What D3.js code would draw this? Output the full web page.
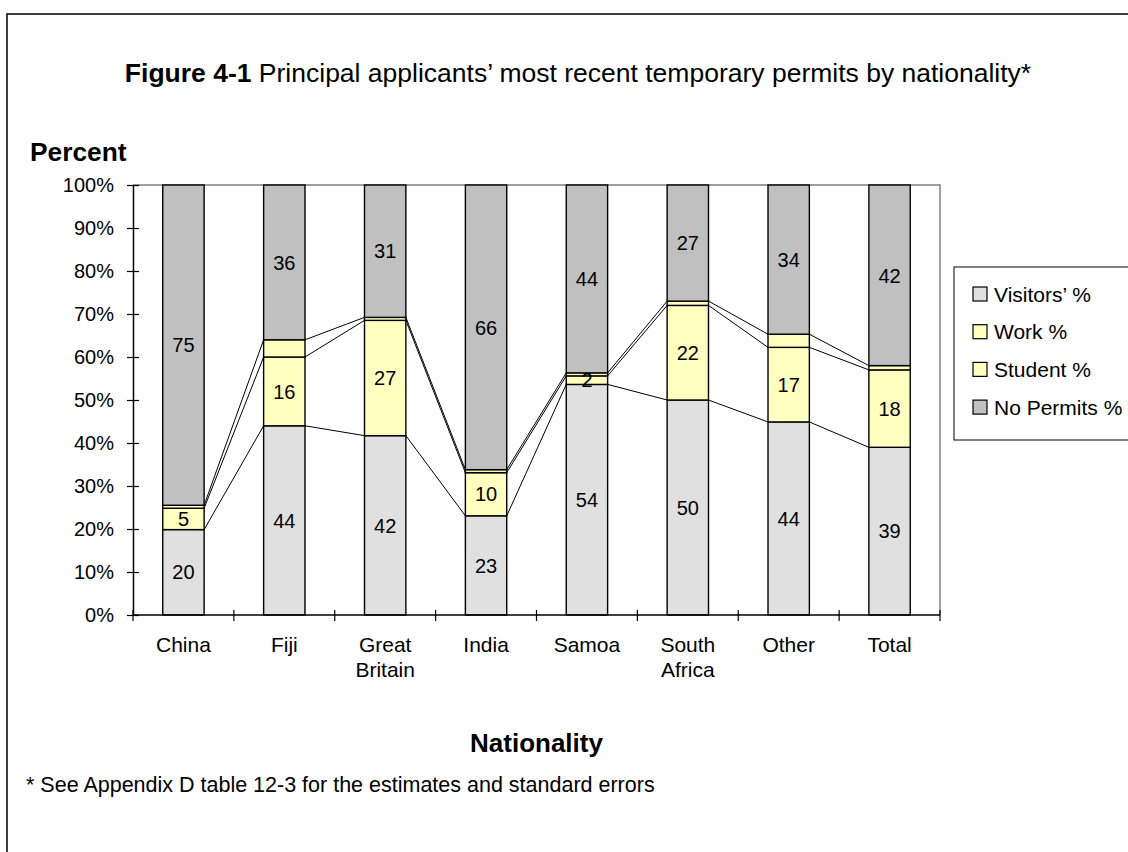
<!DOCTYPE html>
<html>
<head>
<meta charset="utf-8">
<script src="https://cdn.jsdelivr.net/npm/d3@7"></script>
<style>
  body { margin: 0; background: #fff; }
  svg { display: block; }
  text { font-family: "Liberation Sans", Arial, Helvetica, sans-serif; fill: #000; }
</style>
</head>
<body>
<svg id="chart" width="1128" height="852"></svg>
<script>
// Nationalities (x categories)
const categories = ["China", "Fiji", "Great Britain", "India", "Samoa", "South Africa", "Other", "Total"];

// Permit shares per nationality, in percent (stacked as a 100% column)
const visitors  = [20, 44, 42, 23, 54, 50, 44, 39];
const work      = [5, 16, 27, 10, 2, 22, 17, 18];
const student   = [0.7, 4, 0.7, 0.7, 0.7, 1, 3, 1];
const noPermits = [75, 36, 31, 66, 44, 27, 34, 42];

const seriesKeys   = ["visitors", "work", "student", "noPermits"];
const seriesNames  = ["Visitors’ %", "Work %", "Student %", "No Permits %"];
const seriesColors = ["#E0E0E0", "#FFFFC0", "#FFFFC0", "#C0C0C0"];
const labelledKeys = ["visitors", "work", "noPermits"];

const yTickValues = [0, 0.1, 0.2, 0.3, 0.4, 0.5, 0.6, 0.7, 0.8, 0.9, 1];

const titleBold = "Figure 4-1";
const titleRest = " Principal applicants’ most recent temporary permits by nationality*";
const yTitle = "Percent";
const xTitle = "Nationality";
const footnote = "* See Appendix D table 12-3 for the estimates and standard errors";

// ---------------------------------------------------------------
const W = 1128, H = 852;
const plot = { left: 133, right: 940, top: 185, bottom: 615 };

const svg = d3.select("#chart");

const rows = categories.map((c, i) => ({
  cat: c,
  visitors: visitors[i],
  work: work[i],
  student: student[i],
  noPermits: noPermits[i]
}));

const stacked = d3.stack().keys(seriesKeys).offset(d3.stackOffsetExpand)(rows);

const x = d3.scaleBand()
  .domain(categories)
  .range([plot.left, plot.right])
  .paddingInner(0.59)
  .paddingOuter(0.295);

const y = d3.scaleLinear().domain([0, 1]).range([plot.bottom, plot.top]);

const color = d3.scaleOrdinal().domain(seriesKeys).range(seriesColors);

// outer frame of the figure
svg.append("rect")
  .attr("x", 7).attr("y", 14)
  .attr("width", W + 20).attr("height", H + 20)
  .attr("fill", "none").attr("stroke", "#000").attr("stroke-width", 1.5);

// title
const title = svg.append("text")
  .attr("x", 578).attr("y", 82)
  .attr("text-anchor", "middle")
  .style("font-size", "26.5px");
title.append("tspan").style("font-weight", "bold").text(titleBold);
title.append("tspan").text(titleRest);

// axis titles
svg.append("text")
  .attr("x", 30).attr("y", 161)
  .style("font-size", "26.3px").style("font-weight", "bold")
  .text(yTitle);

svg.append("text")
  .attr("x", (plot.left + plot.right) / 2).attr("y", 752)
  .attr("text-anchor", "middle")
  .style("font-size", "26px").style("font-weight", "bold")
  .text(xTitle);

// footnote
svg.append("text")
  .attr("x", 26).attr("y", 792)
  .style("font-size", "21.5px")
  .text(footnote);

// plot area border (top and right)
svg.append("path")
  .attr("d", `M${plot.left},${plot.top}H${plot.right}V${plot.bottom}`)
  .attr("fill", "none").attr("stroke", "#808080").attr("stroke-width", 1.5);

// series lines joining segment tops of neighbouring columns
const bw = x.bandwidth();
const lineGroup = svg.append("g");
stacked.slice(0, 3).forEach(series => {
  for (let i = 0; i < series.length - 1; i++) {
    const a = series[i], b = series[i + 1];
    lineGroup.append("line")
      .attr("x1", x(a.data.cat) + bw).attr("y1", y(a[1]))
      .attr("x2", x(b.data.cat)).attr("y2", y(b[1]))
      .attr("stroke", "#000").attr("stroke-width", 1);
  }
});

// stacked columns
const layers = svg.append("g")
  .selectAll("g")
  .data(stacked)
  .join("g")
  .attr("fill", d => color(d.key));

layers.selectAll("rect")
  .data(d => d)
  .join("rect")
  .attr("x", d => x(d.data.cat))
  .attr("y", d => y(d[1]))
  .attr("width", bw)
  .attr("height", d => y(d[0]) - y(d[1]))
  .attr("stroke", "#000")
  .attr("stroke-width", 1.4);

// value labels
const labelGroup = svg.append("g");
stacked.filter(s => labelledKeys.includes(s.key)).forEach(series => {
  labelGroup.selectAll(null)
    .data(series)
    .join("text")
    .attr("x", d => x(d.data.cat) + bw / 2)
    .attr("y", d => y((d[0] + d[1]) / 2))
    .attr("dy", "0.36em")
    .attr("text-anchor", "middle")
    .style("font-size", "20px")
    .text(d => d3.format("d")(d.data[series.key]));
});

// y axis with ticks crossing the line
const yAxis = svg.append("g")
  .attr("transform", `translate(${plot.left},0)`)
  .call(d3.axisLeft(y)
    .tickValues(yTickValues)
    .tickFormat(d3.format(".0%"))
    .tickSizeInner(6)
    .tickSizeOuter(0)
    .tickPadding(13));
yAxis.select(".domain").attr("stroke", "#000").attr("stroke-width", 1.5);
yAxis.selectAll(".tick line").attr("x1", -6).attr("x2", 6).attr("stroke", "#000").attr("stroke-width", 1.2);
yAxis.selectAll(".tick text")
  .style("font-size", "20px")
  .style("font-family", "'Liberation Sans', Arial, sans-serif");

// x axis: category labels under each column, tick marks on category boundaries
const xAxis = svg.append("g")
  .attr("transform", `translate(0,${plot.bottom})`)
  .call(d3.axisBottom(x).tickSize(0).tickPadding(0));
xAxis.select(".domain").remove();
xAxis.selectAll(".tick text")
  .style("font-size", "21px")
  .style("font-family", "'Liberation Sans', Arial, sans-serif")
  .attr("y", 37)
  .attr("dy", null)
  .each(function (d) {
    const t = d3.select(this);
    const words = d.split(" ");
    t.text(null);
    words.forEach((w, k) => {
      t.append("tspan").attr("x", 0).attr("dy", k === 0 ? 0 : 25).text(w);
    });
  });

const boundaries = d3.range(categories.length + 1).map(i => plot.left + i * x.step());
xAxis.append("line")
  .attr("x1", plot.left).attr("x2", plot.right)
  .attr("stroke", "#000").attr("stroke-width", 1.5);
xAxis.selectAll(".bound")
  .data(boundaries)
  .join("line")
  .attr("class", "bound")
  .attr("x1", d => d).attr("x2", d => d)
  .attr("y1", -5).attr("y2", 6)
  .attr("stroke", "#000").attr("stroke-width", 1.2);

// legend
const legend = svg.append("g").attr("transform", "translate(954,267)");
legend.append("rect")
  .attr("width", 200).attr("height", 173)
  .attr("fill", "#fff").attr("stroke", "#000").attr("stroke-width", 1);
const items = legend.selectAll(".item")
  .data(seriesKeys)
  .join("g")
  .attr("class", "item")
  .attr("transform", (d, i) => `translate(19,${20 + i * 37.7})`);
items.append("rect")
  .attr("width", 14).attr("height", 14)
  .attr("fill", d => color(d))
  .attr("stroke", "#000").attr("stroke-width", 1.2);
items.append("text")
  .attr("x", 21).attr("y", 7)
  .attr("dy", "0.36em")
  .style("font-size", "21px")
  .text((d, i) => seriesNames[i]);
</script>
</body>
</html>
